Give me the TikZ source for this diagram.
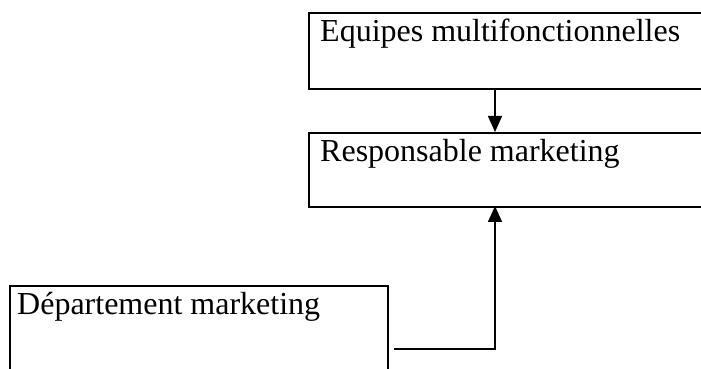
\documentclass[tikz,border=0pt]{standalone}
\usepackage{fontspec}
\setmainfont{Liberation Serif}
\usetikzlibrary{arrows.meta}
\begin{document}
\begin{tikzpicture}[x=1pt,y=1pt,
  box/.style={draw, line width=2.4pt, rectangle, inner sep=0pt},
  lbl/.style={anchor=base west, inner sep=0pt, font=\fontsize{32}{36}\selectfont},
  link/.style={line width=1.4pt, -{Triangle[length=16pt,width=14pt]}}]
\useasboundingbox (0,0) rectangle (701,369);
\clip (0,0) rectangle (701,369);
% boxes
\node[box, minimum width=400pt, minimum height=76pt, anchor=north west] (equipes) at (308,357) {};
\node[box, minimum width=400pt, minimum height=74pt, anchor=north west] (resp) at (308,237) {};
\node[box, minimum width=378.5pt, minimum height=100pt, anchor=north west] (dept) at (8.5,84) {};
% labels
\node[lbl] (tequipes) at (320,327) {Equipes multifonctionnelles};
\node[lbl] (tresp) at (320,207) {Responsable marketing};
\node[lbl] (tdept) at (17,54) {Département marketing};
% connectors
\coordinate (c1) at (495,281);
\coordinate (c2) at (495,237);
\coordinate (d0) at (394,20);
\coordinate (d1) at (495,20);
\coordinate (d2) at (495,163);
\draw[link] (c1) -- (c2);
\draw[link] (d0) -- (d1) -- (d2);
\end{tikzpicture}
\end{document}
